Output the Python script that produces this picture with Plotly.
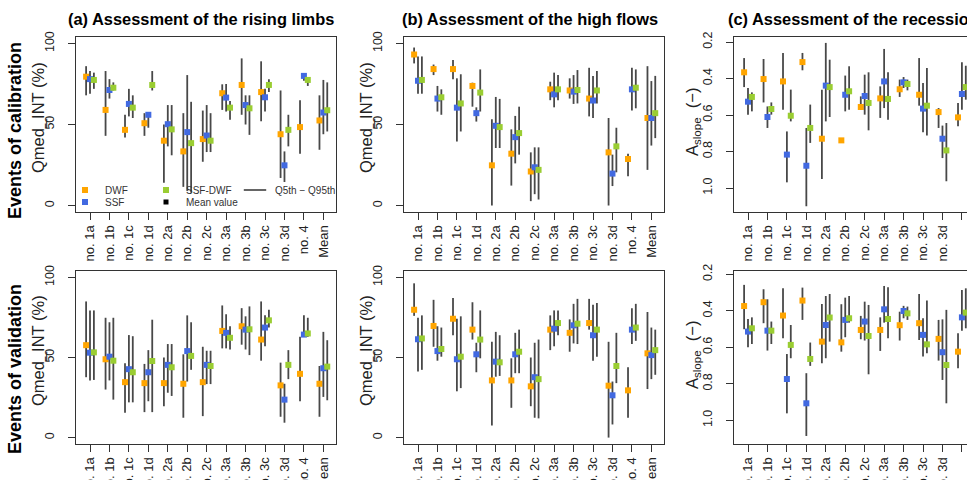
import plotly.graph_objects as go

# ---------------- data ----------------
categories = ["no. 1a", "no. 1b", "no. 1c", "no. 1d", "no. 2a", "no. 2b", "no. 2c",
              "no. 3a", "no. 3b", "no. 3c", "no. 3d", "no. 4", "Mean"]
cat_pos = list(range(1, len(categories) + 1))
series_names = ["DWF", "SSF", "SSF-DWF"]
series_colors = ["#FFA500", "#4169E1", "#9ACD32"]
series_offsets = [-0.2, 0.0, 0.2]

# (a) rising limbs, calibration  (Qmed_INT %)
a_cal_dwf = [79.5, 59, 46.7, 50.8, 40, 33.4, 41, 69.3, 74.4, 70, 44, 48.4, 52.5]
a_cal_dwf_lo = [68, 43, 42, 43, 14, 11.5, 27, 59, 56, 52, 17, 32, 34.4]
a_cal_dwf_hi = [86, 83, 56, 57, 50, 57, 58.6, 74.8, 90.8, 89, 71, 65, 68]
a_cal_ssf = [78, 71.3, 62.7, 56, 50.2, 45.3, 43.2, 66.6, 62, 66.8, 24.8, 80, 57.4]
a_cal_ssf_lo = [69, 66, 55, 48, 36.5, 9, 33, 58, 50, 58, 14.5, 77, 44]
a_cal_ssf_hi = [83, 78, 72, 57, 62, 80.5, 62, 75, 68, 72, 33.4, 80.5, 77.5]
a_cal_sd = [77.5, 72.7, 60.4, 74.4, 47, 38.5, 40, 60.4, 60, 74.4, 46.7, 77.5, 58.8]
a_cal_sd_lo = [72, 71, 54, 71, 31, 8, 33, 53, 43.6, 70, 36.5, 73.8, 45.7]
a_cal_sd_hi = [82, 76, 68, 83, 62, 64, 57, 64.5, 68, 78, 56, 78.5, 76]

# (b) high flows, calibration
b_cal_dwf = [93.2, 84.2, 84.2, 73.8, 24.8, 32, 21, 71.7, 71, 66, 32.8, 28.7, 54]
b_cal_dwf_lo = [87.7, 80.5, 78, 61, 0, 12.3, 2.7, 65, 66, 55, 0, 18, 22]
b_cal_dwf_hi = [97.5, 87, 89.8, 75.8, 53.3, 47, 32.8, 76.4, 78.5, 85, 54, 32, 86]
b_cal_ssf = [77, 66, 60.4, 57, 49.2, 42.2, 23.6, 68.6, 70.3, 64.8, 19.7, 71.7, 54]
b_cal_ssf_lo = [69, 58, 39.5, 51.8, 35.5, 26, 7, 60.6, 62.7, 54, 12, 58.6, 37]
b_cal_ssf_hi = [92, 73.8, 78.5, 60.6, 67, 55.3, 35.9, 82, 80.5, 80, 31.4, 85, 76.8]
b_cal_sd = [77.5, 66.8, 63, 69.7, 48.4, 44.7, 22, 71.7, 71.3, 71, 36.5, 72.7, 57]
b_cal_sd_lo = [69, 56, 45.7, 58, 35.5, 31.4, 3.7, 65, 63, 63, 20.5, 60, 41.6]
b_cal_sd_hi = [92, 71.7, 81, 84, 65.8, 61, 35.9, 80.5, 83.6, 83, 48, 84, 80]

# (c) recession limbs, calibration (A_slope)
c_cal_dwf = [0.366, 0.403, 0.416, 0.31, 0.73, 0.739, 0.556, 0.509, 0.459, 0.489, 0.584, 0.613, 0.60]
c_cal_dwf_lo = [0.288, 0.293, 0.26, 0.26, 0.461, 0.739, 0.498, 0.443, 0.406, 0.288, 0.562, 0.534, 0.45]
c_cal_dwf_hi = [0.447, 0.531, 0.571, 0.355, 0.951, 0.739, 0.571, 0.616, 0.501, 0.549, 0.671, 0.662, 0.80]
c_cal_ssf = [0.527, 0.611, 0.817, 0.878, 0.439, 0.489, 0.496, 0.416, 0.421, 0.565, 0.73, 0.485, 0.55]
c_cal_ssf_lo = [0.452, 0.553, 0.69, 0.671, 0.205, 0.384, 0.379, 0.238, 0.392, 0.425, 0.658, 0.311, 0.40]
c_cal_ssf_hi = [0.598, 0.671, 0.969, 1.1, 0.635, 0.58, 0.598, 0.562, 0.452, 0.695, 0.836, 0.571, 0.75]
c_cal_sd = [0.501, 0.567, 0.604, 0.671, 0.447, 0.47, 0.534, 0.512, 0.43, 0.549, 0.794, 0.447, 0.52]
c_cal_sd_lo = [0.476, 0.531, 0.461, 0.543, 0.297, 0.333, 0.366, 0.366, 0.406, 0.342, 0.644, 0.33, 0.38]
c_cal_sd_hi = [0.58, 0.598, 0.635, 0.753, 0.611, 0.571, 0.684, 0.626, 0.465, 0.713, 0.963, 0.516, 0.72]

# (a) rising limbs, validation
a_val_dwf = [57.7, 48.9, 34.6, 34, 34, 33.6, 34.6, 66.6, 69.5, 61.2, 32.6, 39.8, 33.6]
a_val_dwf_lo = [37.7, 30, 15.5, 15.9, 19.6, 12.4, 13.4, 55.7, 58, 48, 13, 22.7, 13]
a_val_dwf_hi = [85, 74.8, 46.4, 46, 50, 52, 56.7, 82.5, 80.8, 85, 46.8, 63, 44.7]
a_val_ssf = [53, 50.5, 42.7, 40.8, 45.4, 54, 45.4, 65.4, 67.4, 68.7, 23.7, 64.3, 43.3]
a_val_ssf_lo = [35.7, 35.7, 22, 22.7, 28, 35, 33.4, 55.7, 55, 57, 9.3, 62.9, 25.4]
a_val_ssf_hi = [79.4, 72, 64, 54.6, 58.4, 76.3, 54.2, 77, 75.7, 76.3, 33.6, 76.3, 66]
a_val_sd = [53.2, 48, 40.8, 47.8, 43.9, 51, 44.7, 62.3, 67.6, 73.2, 45.4, 65, 44.3]
a_val_sd_lo = [36, 23.7, 22, 15.9, 26, 42.3, 33.4, 55, 51.5, 68.7, 36.5, 62.9, 23.3]
a_val_sd_hi = [79.4, 74.8, 63.3, 73.6, 58.4, 72, 54.2, 69.5, 81.9, 79.8, 54.6, 74.8, 60.8]

# (b) high flows, validation
b_val_dwf = [79.8, 69.7, 74.2, 67.4, 35.7, 35.7, 32, 67.4, 65.4, 71.5, 32.4, 29.5, 52.6]
b_val_dwf_lo = [76, 56.7, 63.9, 61.2, 7.6, 18.6, 19.6, 54.6, 53.6, 67.4, 0, 12.4, 30.3]
b_val_dwf_hi = [96.3, 86, 87.2, 84.5, 59.8, 49.5, 50, 76.3, 73.8, 86.6, 59.8, 43.9, 78.4]
b_val_ssf = [61.4, 54, 48.9, 52, 47.4, 52, 37.7, 68, 70.1, 63.9, 26.4, 67.4, 51.5]
b_val_ssf_lo = [41.2, 48, 28.9, 40.8, 38, 40.2, 12.4, 57, 58.8, 48, 8.2, 58.4, 36.5]
b_val_ssf_hi = [74.8, 69.5, 74.2, 59.2, 66, 65.4, 59.2, 79.4, 83.5, 83, 35, 80.8, 68.7]
b_val_sd = [61.9, 55.3, 50.5, 61.2, 47, 53.6, 36.5, 71.5, 71.1, 67.4, 44.7, 68.7, 54.6]
b_val_sd_lo = [42.3, 50.5, 30.9, 49.5, 38.5, 40.2, 12, 63.9, 58.4, 50.5, 34, 60.4, 39.2]
b_val_sd_hi = [76.3, 68.7, 75.7, 79.4, 63.9, 67.4, 61.2, 79.4, 86.6, 84, 65.4, 83.5, 67.4]

# (c) recession limbs, validation
c_val_dwf = [0.374, 0.353, 0.426, 0.344, 0.569, 0.573, 0.505, 0.505, 0.479, 0.468, 0.554, 0.624, 0.58]
c_val_dwf_lo = [0.258, 0.282, 0.277, 0.273, 0.363, 0.364, 0.428, 0.436, 0.405, 0.308, 0.45, 0.523, 0.42]
c_val_dwf_hi = [0.501, 0.468, 0.551, 0.45, 0.688, 0.624, 0.556, 0.62, 0.563, 0.56, 0.673, 0.715, 0.78]
c_val_ssf = [0.514, 0.509, 0.774, 0.907, 0.478, 0.45, 0.459, 0.392, 0.401, 0.532, 0.627, 0.436, 0.55]
c_val_ssf_lo = [0.445, 0.337, 0.637, 0.742, 0.319, 0.328, 0.35, 0.264, 0.373, 0.441, 0.447, 0.286, 0.40]
c_val_ssf_hi = [0.6, 0.618, 0.962, 1.086, 0.66, 0.545, 0.563, 0.465, 0.441, 0.651, 0.779, 0.509, 0.75]
c_val_sd = [0.496, 0.509, 0.587, 0.664, 0.437, 0.441, 0.538, 0.445, 0.414, 0.584, 0.697, 0.41, 0.52]
c_val_sd_lo = [0.436, 0.459, 0.478, 0.574, 0.308, 0.319, 0.368, 0.271, 0.377, 0.344, 0.395, 0.277, 0.38]
c_val_sd_hi = [0.582, 0.582, 0.66, 0.702, 0.569, 0.465, 0.748, 0.551, 0.45, 0.633, 0.907, 0.496, 0.70]

pct_ticks = [0, 50, 100]
slope_ticks = [0.2, 0.4, 0.6, 0.8, 1.0]
slope_ticktext = ["0.2", "0.4", "0.6", "0.8", "1.0"]

# ---------------- layout helpers ----------------
W, H = 967, 480
FONT = "Liberation Sans, Arial, Helvetica, sans-serif"
ERR = "rgba(40,40,40,0.85)"
AX = "#333333"

def px_x(p):
    return p / W

def px_y(p):
    return 1 - p / H

col_px = [(76, 336), (404, 664), (734, 967)]
row_px = [(37, 212), (271, 444)]
x_full = [0.28, 13.65]
x_cut = [0.28, 0.28 + (967 - 734) * (x_full[1] - x_full[0]) / 260.0]

panels = [
    (0, 0, [(a_cal_dwf, a_cal_dwf_lo, a_cal_dwf_hi), (a_cal_ssf, a_cal_ssf_lo, a_cal_ssf_hi), (a_cal_sd, a_cal_sd_lo, a_cal_sd_hi)]),
    (0, 1, [(b_cal_dwf, b_cal_dwf_lo, b_cal_dwf_hi), (b_cal_ssf, b_cal_ssf_lo, b_cal_ssf_hi), (b_cal_sd, b_cal_sd_lo, b_cal_sd_hi)]),
    (0, 2, [(c_cal_dwf, c_cal_dwf_lo, c_cal_dwf_hi), (c_cal_ssf, c_cal_ssf_lo, c_cal_ssf_hi), (c_cal_sd, c_cal_sd_lo, c_cal_sd_hi)]),
    (1, 0, [(a_val_dwf, a_val_dwf_lo, a_val_dwf_hi), (a_val_ssf, a_val_ssf_lo, a_val_ssf_hi), (a_val_sd, a_val_sd_lo, a_val_sd_hi)]),
    (1, 1, [(b_val_dwf, b_val_dwf_lo, b_val_dwf_hi), (b_val_ssf, b_val_ssf_lo, b_val_ssf_hi), (b_val_sd, b_val_sd_lo, b_val_sd_hi)]),
    (1, 2, [(c_val_dwf, c_val_dwf_lo, c_val_dwf_hi), (c_val_ssf, c_val_ssf_lo, c_val_ssf_hi), (c_val_sd, c_val_sd_lo, c_val_sd_hi)]),
]

fig = go.Figure()
legend_ids = ["legend", "legend2", "legend3"]
layout_axes = {}

for idx, (r, c, series) in enumerate(panels):
    n = idx + 1
    xa = "x" if n == 1 else f"x{n}"
    ya = "y" if n == 1 else f"y{n}"
    for k, (med, lo, hi) in enumerate(series):
        xs = [p + series_offsets[k] for p in cat_pos]
        fig.add_trace(go.Scatter(
            x=xs, y=med, mode="markers",
            marker=dict(symbol="square", size=6, color=series_colors[k], line=dict(width=0)),
            error_y=dict(type="data", symmetric=False,
                         array=[h - m for h, m in zip(hi, med)],
                         arrayminus=[m - l for m, l in zip(med, lo)],
                         color=ERR, thickness=1.8, width=0),
            name=series_names[k], showlegend=(n == 1), legend=legend_ids[k],
            xaxis=xa, yaxis=ya, cliponaxis=True))

    xdom = [px_x(col_px[c][0]), px_x(col_px[c][1])]
    ydom = [px_y(row_px[r][1]), px_y(row_px[r][0])]
    is_c = (c == 2)
    xkey = "xaxis" if n == 1 else f"xaxis{n}"
    ykey = "yaxis" if n == 1 else f"yaxis{n}"
    layout_axes[xkey] = dict(
        domain=xdom, anchor=ya, range=x_cut if is_c else x_full, automargin=False,
        tickmode="array", tickvals=cat_pos, ticktext=categories, tickangle=-90,
        ticks="outside", ticklen=7, tickwidth=1.2, tickcolor=AX,
        showline=True, linecolor=AX, linewidth=1.3, mirror=True,
        showgrid=False, zeroline=False,
        tickfont=dict(family=FONT, size=13, color="#222"))
    if is_c:
        yr = [1.1315, 0.1726] if r == 0 else [1.13, 0.182]
        ycfg = dict(range=yr, tickvals=slope_ticks, ticktext=slope_ticktext)
    else:
        ycfg = dict(range=[-4, 104], tickvals=pct_ticks, ticktext=[str(v) for v in pct_ticks])
    layout_axes[ykey] = dict(
        domain=ydom, anchor=xa, tickmode="array", tickangle=-90, automargin=False,
        ticks="outside", ticklen=7, tickwidth=1.2, tickcolor=AX, ticklabelstandoff=9,
        showline=True, linecolor=AX, linewidth=1.3, mirror=(not is_c),
        showgrid=False, zeroline=False,
        tickfont=dict(family=FONT, size=12.5, color="#222"), **ycfg)

# legend-only entries
fig.add_trace(go.Scatter(x=[None], y=[None], mode="markers", name="Mean value",
                         marker=dict(symbol="square", size=5, color="black"),
                         legend="legend4", showlegend=True))
fig.add_trace(go.Scatter(x=[None], y=[None], mode="markers", name="Q5th \u2212 Q95th",
                         marker=dict(symbol="line-ew", size=16, color=AX,
                                     line=dict(width=1.6, color=AX)),
                         legend="legend5", showlegend=True))

def leg(xm, yc):
    return dict(x=px_x(xm - 20), y=px_y(yc), xanchor="left", yanchor="middle",
                bgcolor="rgba(0,0,0,0)", borderwidth=0, orientation="v",
                font=dict(family=FONT, size=10, color="#333"),
                itemwidth=30, tracegroupgap=0)

annotations = [
    dict(text="<b>(a) Assessment of the rising limbs</b>", x=px_x(66), y=px_y(19)),
    dict(text="<b>(b) Assessment of the high flows</b>", x=px_x(400), y=px_y(19)),
    dict(text="<b>(c) Assessment of the recession limbs</b>", x=px_x(726), y=px_y(19)),
]
annotations = [dict(a, xref="paper", yref="paper", xanchor="left", yanchor="middle",
                    showarrow=False, font=dict(family=FONT, size=16.4, color="black"))
               for a in annotations]
for text, yc in [("<b>Events of calibration</b>", 131), ("<b>Events of validation</b>", 369)]:
    annotations.append(dict(text=text, x=px_x(15), y=px_y(yc), xref="paper", yref="paper",
                            xanchor="center", yanchor="middle", textangle=-90, showarrow=False,
                            font=dict(family=FONT, size=18, color="black")))
for yc in [118, 351]:
    for xc in [38, 366]:
        annotations.append(dict(text="Qmed_INT (%)", x=px_x(xc), y=px_y(yc), xref="paper", yref="paper",
                                xanchor="center", yanchor="middle", textangle=-90, showarrow=False,
                                font=dict(family=FONT, size=16.5, color="#222")))
    annotations.append(dict(text="A<sub>slope</sub>  (\u2212)", x=px_x(693), y=px_y(yc + 4), xref="paper", yref="paper",
                            xanchor="center", yanchor="middle", textangle=-90, showarrow=False,
                            font=dict(family=FONT, size=16.5, color="#222")))

fig.update_layout(
    template="none",
    width=W, height=H, margin=dict(l=0, r=0, t=0, b=0, autoexpand=False),
    paper_bgcolor="white", plot_bgcolor="white",
    font=dict(family=FONT, color="#222"),
    annotations=annotations,
    legend=leg(85, 190), legend2=leg(85, 202), legend3=leg(166, 190),
    legend4=leg(166, 202), legend5=leg(255, 190),
    **layout_axes)

fig.write_html("out.html")
